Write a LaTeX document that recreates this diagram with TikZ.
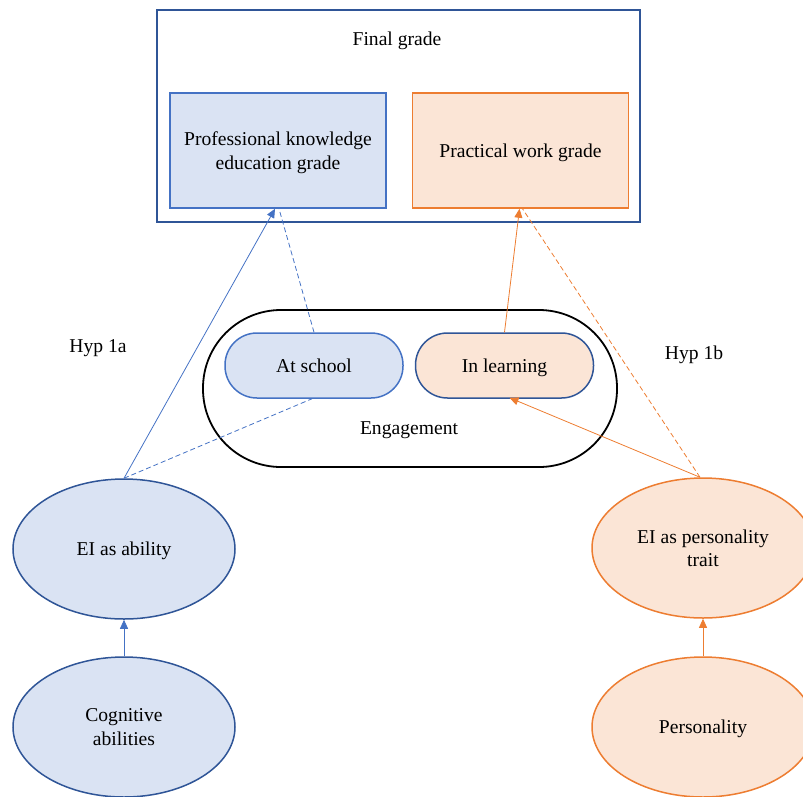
\documentclass[tikz,border=0pt]{standalone}
\usepackage{fontspec}
\setmainfont{Liberation Serif}
\usetikzlibrary{arrows.meta,shapes.geometric}
\definecolor{bfill}{HTML}{DAE3F3}
\definecolor{bline}{HTML}{4472C4}
\definecolor{dblue}{HTML}{2F5597}
\definecolor{ofill}{HTML}{FBE5D6}
\definecolor{oline}{HTML}{ED7D31}
\tikzset{
  txt/.style={font=\fontsize{19.6}{23.5}\selectfont, align=center, inner sep=0pt, text depth=0pt},
  gradebox/.style={txt, rectangle, line width=1.5pt, minimum width=216pt, minimum height=115pt},
  pill/.style={txt, rectangle, rounded corners=32pt, line width=1.5pt, minimum width=178pt, minimum height=65pt},
  oval/.style={txt, ellipse, line width=1.5pt, minimum width=222pt, minimum height=140pt},
  conn/.style={line width=0.8pt},
  tip/.style={-{Triangle[length=9pt,width=8pt]}},
  dsh/.style={dash pattern=on 5pt off 3pt},
}
\begin{document}
\begin{tikzpicture}[x=1pt,y=-1pt]
\useasboundingbox (0,0) rectangle (803,796);
% final grade frame
\node[rectangle, draw=dblue, line width=1.5pt, minimum width=483pt, minimum height=212pt] (final) at (398.5,116) {};
\node[txt] (finallbl) at (397,39) {Final grade};
\node[gradebox, draw=bline, fill=bfill] (pk) at (278,150.5) {Professional knowledge\\education grade};
\node[gradebox, draw=oline, fill=ofill] (pw) at (520.5,150.5) {Practical work grade};
% engagement
\node[rectangle, rounded corners=78pt, draw=black, line width=1.8pt, minimum width=414pt, minimum height=157pt] (eng) at (410,388.5) {};
\node[txt] (englbl) at (409,428) {Engagement};
\node[pill, draw=bline, fill=bfill] (school) at (314,365.5) {At school};
\node[pill, draw=dblue, fill=ofill] (learn) at (504.5,365.5) {In learning};
% ellipses
\node[oval, draw=dblue, fill=bfill] (eia) at (124,549) {EI as ability};
\node[oval, draw=dblue, fill=bfill] (cog) at (124,727) {Cognitive\\abilities};
\node[oval, draw=oline, fill=ofill] (eit) at (703,548) {EI as personality\\trait};
\node[oval, draw=oline, fill=ofill] (pers) at (703,727) {Personality};
% labels
\node[txt] (h1a) at (98,346) {Hyp 1a};
\node[txt] (h1b) at (694,353) {Hyp 1b};
% connectors
\draw[conn, bline, tip] (cog.north) -- (eia.south);
\draw[conn, oline, tip] (pers.north) -- (eit.south);
\draw[conn, bline, tip] (eia.north) -- ([xshift=-3pt]pk.south);
\draw[conn, bline, dsh] (school.north) -- ([xshift=1pt]pk.south);
\draw[conn, bline, dsh] (eia.north) -- ([xshift=-2pt]school.south);
\draw[conn, oline, tip] (learn.north) -- ([xshift=-1pt]pw.south);
\draw[conn, oline, dsh] ([xshift=-3pt]eit.north) -- ([xshift=2pt]pw.south);
\draw[conn, oline, tip] ([xshift=-3pt]eit.north) -- ([xshift=5pt,yshift=1pt]learn.south);
\end{tikzpicture}
\end{document}
